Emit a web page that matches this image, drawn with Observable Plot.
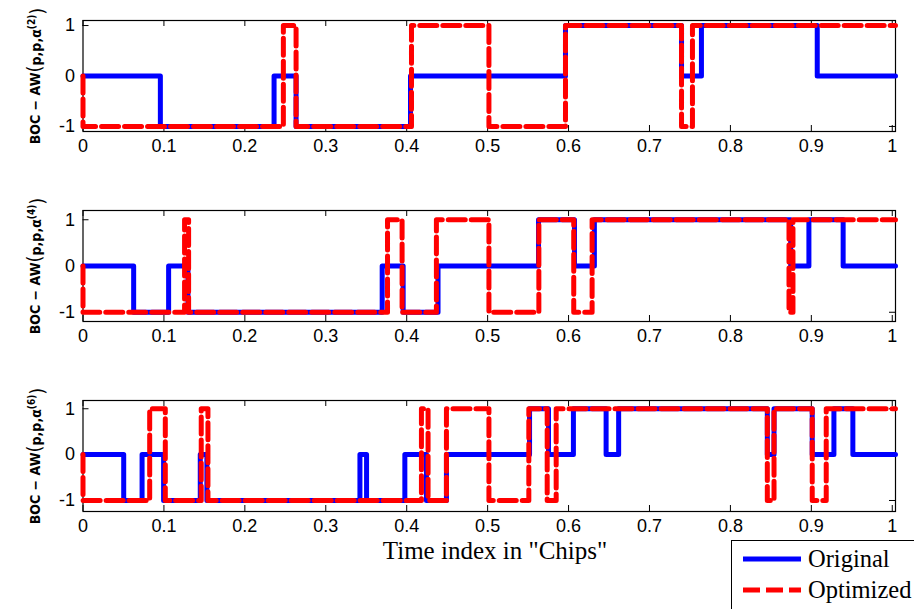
<!DOCTYPE html>
<html>
<head>
<meta charset="utf-8">
<script src="https://cdn.jsdelivr.net/npm/d3@7"></script>
<script src="https://cdn.jsdelivr.net/npm/@observablehq/plot@0.6"></script>
<style>
  html, body { margin: 0; padding: 0; background: #fff; }
  #fig { position: relative; width: 914px; height: 609px; overflow: hidden; background: #fff; }
  .panel { position: absolute; left: 0; overflow: visible; }
  #xlabel {
    position: absolute; left: 495px; top: 537px; transform: translateX(-50%);
    font-family: "Liberation Serif", "Times New Roman", serif; font-size: 25px; color: #000; white-space: nowrap;
  }
  #legend {
    position: absolute; left: 731px; top: 540px; width: 220px; height: 90px;
    border: 1px solid #000; background: #fff; box-sizing: border-box;
  }
  #legend .row { position: absolute; left: 0; height: 30px; display: flex; align-items: center; }
  #legend .row span {
    font-family: "Liberation Serif", "Times New Roman", serif; font-size: 24.5px; color: #000; margin-left: 5px; white-space: nowrap;
  }
</style>
</head>
<body>
<div id="fig">
  <div id="xlabel">Time index in "Chips"</div>
  <div id="legend">
    <div class="row" style="top:3px; left:11px;">
      <svg width="60" height="30"><line x1="0" x2="58" y1="15" y2="15" stroke="#0000ff" stroke-width="5"/></svg>
      <span>Original</span>
    </div>
    <div class="row" style="top:34px; left:11px;">
      <svg width="60" height="30"><line x1="0" x2="58" y1="15" y2="15" stroke="#ff0000" stroke-width="5" stroke-dasharray="17,6"/></svg>
      <span>Optimized</span>
    </div>
  </div>
</div>
<script>
// Axis ticks shared by the three panels
const xTicks = [0, 0.1, 0.2, 0.3, 0.4, 0.5, 0.6, 0.7, 0.8, 0.9, 1];
const yTicks = [-1, 0, 1];
const xMax = 1.004;

// Panel 1: BOC − AW(p,p,α(2)) — transition times (chips) and levels
const p1OrigT = [0, 0.0956, 0.2361, 0.2633, 0.4047, 0.5962, 0.7396, 0.7642, 0.9073, 1.004];
const p1OrigV = [0, -1, 0, -1, 0, 1, 0, 1, 0, 0];
const p1OptT  = [0, 0, 0.2476, 0.2633, 0.4059, 0.5016, 0.5962, 0.7396, 0.7531, 1.004];
const p1OptV  = [0, -1, 1, -1, 1, -1, 1, -1, 1, 1];

// Panel 2: BOC − AW(p,p,α(4))
const p2OrigT = [0, 0.0626, 0.1058, 0.1297, 0.3697, 0.3956, 0.4387, 0.5629, 0.6073, 0.6319, 0.8745, 0.8970, 0.9393, 1.004];
const p2OrigV = [0, -1, 0, -1, 0, -1, 0, 1, 0, 1, 0, 1, 0, 0];
const p2OptT  = [0, 0, 0.1255, 0.1305, 0.3763, 0.3943, 0.4367, 0.5016, 0.5633, 0.6064, 0.6291, 0.8724, 0.8773, 1.004];
const p2OptV  = [0, -1, 1, -1, 1, -1, 1, -1, 1, -1, 1, -1, 1, 1];

// Panel 3: BOC − AW(p,p,α(6))
const p3OrigT = [0, 0.0503, 0.0730, 0.0996, 0.1449, 0.1531, 0.3422, 0.3504, 0.3977, 0.4244, 0.4491, 0.5518, 0.5752, 0.6060, 0.6464, 0.6619, 0.8456, 0.8539, 0.9011, 0.9279, 0.9513, 1.004];
const p3OrigV = [0, -1, 0, -1, 0, -1, 0, -1, 0, -1, 0, 1, 0, 1, 0, 1, 0, 1, 0, 1, 0, 0];
const p3OptT  = [0, 0, 0.0824, 0.1017, 0.1461, 0.1544, 0.4182, 0.4264, 0.4491, 0.5016, 0.5509, 0.5736, 0.5847, 0.8456, 0.8539, 0.9011, 0.9184, 1.004];
const p3OptV  = [0, -1, 1, -1, 1, -1, 1, -1, 1, -1, 1, -1, 1, -1, 1, -1, 1, 1];

const yLabelOrders = ["2", "4", "6"];
const yDomains = [[-1.1, 1.1], [-1.2, 1.2], [-1.24, 1.18]];

const toRows = (t, v) => t.map((x, i) => ({x, y: v[i]}));

const panels = [
  {orig: toRows(p1OrigT, p1OrigV), opt: toRows(p1OptT, p1OptV)},
  {orig: toRows(p2OrigT, p2OrigV), opt: toRows(p2OptT, p2OptV)},
  {orig: toRows(p3OrigT, p3OrigV), opt: toRows(p3OptT, p3OptV)}
];

const W = 914, mL = 82.5, mR = 19, mT = 20, frameH = 111;
const tickPx = 6;
const pxPerX = (W - mL - mR) / xMax;

const fig = document.getElementById("fig");

panels.forEach((p, i) => {
  const dom = yDomains[i];
  const tY = (dom[1] - dom[0]) * tickPx / frameH;  // tick length in y units
  const tX = tickPx / pxPerX;                        // tick length in x units
  const chart = Plot.plot({
    width: W,
    height: 180,
    marginLeft: mL,
    marginRight: mR,
    marginTop: mT,
    marginBottom: 180 - mT - frameH,
    style: {fontFamily: "'Liberation Sans', Arial, sans-serif", fontSize: "18px", color: "#000", background: "transparent", overflow: "visible"},
    x: {domain: [0, xMax], ticks: xTicks, tickSize: 0, tickPadding: 8, tickFormat: d => String(d), label: null},
    y: {domain: dom, ticks: yTicks, tickSize: 0, tickPadding: 8, tickFormat: d => String(d), label: null},
    marks: [
      // inward tick marks on all four sides
      Plot.ruleX(xTicks, {y1: dom[0], y2: dom[0] + tY, stroke: "#000", strokeWidth: 1}),
      Plot.ruleX(xTicks, {y1: dom[1] - tY, y2: dom[1], stroke: "#000", strokeWidth: 1}),
      Plot.ruleY(yTicks, {x1: 0, x2: tX, stroke: "#000", strokeWidth: 1}),
      Plot.ruleY(yTicks, {x1: xMax - tX, x2: xMax, stroke: "#000", strokeWidth: 1}),
      Plot.frame({stroke: "#000", strokeWidth: 1.2}),
      Plot.line(p.orig, {x: "x", y: "y", curve: "step-after", stroke: "#0000ff", strokeWidth: 5, strokeLinejoin: "round"}),
      Plot.line(p.opt, {x: "x", y: "y", curve: "step-after", stroke: "#ff0000", strokeWidth: 5, strokeLinejoin: "round", strokeDasharray: "17,6"}),
      Plot.text([yLabelOrders[i]], {
        text: d => `BOC − AW(p,p,α(${d}))`, frameAnchor: "left", textAnchor: "middle", dx: -47, rotate: -90,
        fontFamily: "'DejaVu Sans Condensed', 'DejaVu Sans', sans-serif", fontWeight: "bold", fontSize: 14, fill: "#000"
      })
    ]
  });
  // typeset the y label: tall parentheses and a superscript order
  d3.select(chart).selectAll("text").filter(function() { return this.textContent.startsWith("BOC"); })
    .each(function() {
      const t = d3.select(this);
      const order = yLabelOrders[i];
      t.text(null);
      t.append("tspan").text("BOC − AW");
      t.append("tspan").attr("font-size", 20).attr("font-weight", "normal").attr("dy", "0.05em").text("(");
      t.append("tspan").attr("dy", "-0.05em").text("p,p,α");
      t.append("tspan").attr("font-size", 10).attr("dy", "-0.55em").text(`(${order})`);
      t.append("tspan").attr("font-size", 20).attr("font-weight", "normal").attr("dy", "0.45em").text(")");
    });
  chart.classList.add("panel");
  chart.style.top = (i * 190) + "px";
  fig.insertBefore(chart, fig.firstChild);
});
</script>
</body>
</html>
